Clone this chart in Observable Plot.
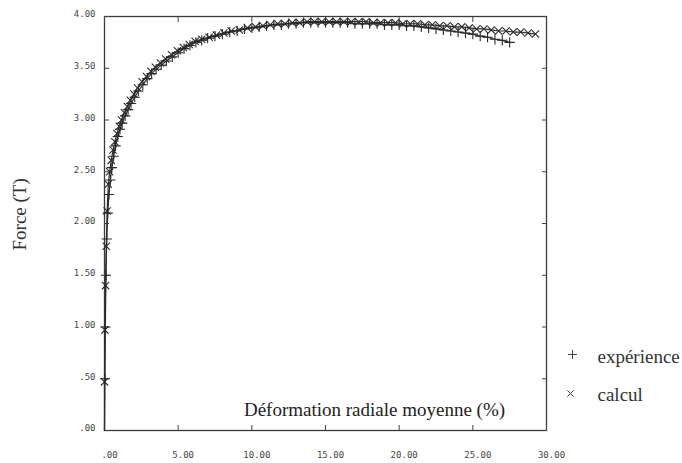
<!DOCTYPE html>
<html><head><meta charset="utf-8">
<script src="https://cdn.jsdelivr.net/npm/d3@7"></script>
<script src="https://cdn.jsdelivr.net/npm/@observablehq/plot@0.6"></script>
<style>body{margin:0;background:#fff} svg{display:block}</style>
</head><body><div id="chart"></div>
<script>
const xTicks = [0, 5, 10, 15, 20, 25, 30];
const xTickLabels = [".00", "5.00", "10.00", "15.00", "20.00", "25.00", "30.00"];
const yTicks = [0, 0.5, 1, 1.5, 2, 2.5, 3, 3.5, 4];
const yTickLabels = [".00", ".50", "1.00", "1.50", "2.00", "2.50", "3.00", "3.50", "4.00"];

const xTitle = "Déformation radiale moyenne (%)";
const yTitle = "Force (T)";
const seriesNames = ["expérience", "calcul"];

// expérience (+)
const expX = [0, 0.03, 0.06, 0.1, 0.15, 0.22, 0.3, 0.4, 0.5, 0.62,
  0.75, 0.9, 1.05, 1.2, 1.4, 1.6, 1.8, 2.05, 2.3, 2.6,
  2.9, 3.2, 3.5, 3.85, 4.2, 4.6, 5.0, 5.4, 5.8, 6.2,
  6.6, 7.0, 7.5, 8.0, 8.5, 9.0, 9.5, 10.0,
  10.5, 11.0, 11.5, 12.0, 12.5, 13.0, 13.5, 14.0, 14.5, 15.0,
  15.5, 16.0, 16.5, 17.0, 17.5, 18.0, 18.5, 19.0, 19.5, 20.0,
  20.5, 21.0, 21.5, 22.0, 22.5, 23.0, 23.5, 24.0, 24.5, 25.0,
  25.5, 26.0, 26.5, 27.0, 27.5];
const expY = [0, 0.5, 1.0, 1.5, 1.85, 2.1, 2.28, 2.42, 2.54, 2.65,
  2.75, 2.84, 2.91, 2.97, 3.04, 3.1, 3.16, 3.22, 3.28, 3.34,
  3.40, 3.45, 3.49, 3.53, 3.57, 3.61, 3.65, 3.69, 3.72, 3.75,
  3.77, 3.79, 3.81, 3.83, 3.85, 3.86, 3.88, 3.89,
  3.90, 3.91, 3.92, 3.92, 3.93, 3.93, 3.94, 3.94, 3.94, 3.94,
  3.94, 3.94, 3.94, 3.93, 3.93, 3.93, 3.93, 3.92, 3.92, 3.92,
  3.91, 3.91, 3.90, 3.89, 3.88, 3.87, 3.86, 3.85, 3.84, 3.83,
  3.81, 3.80, 3.78, 3.77, 3.75];

// calcul (×)
const calX = [0, 0.0, 0.03, 0.07, 0.12, 0.18, 0.26, 0.35, 0.46, 0.58,
  0.7, 0.85, 1.0, 1.15, 1.35, 1.55, 1.75, 2.0, 2.25, 2.55,
  2.85, 3.15, 3.45, 3.8, 4.15, 4.55, 4.95, 5.35, 5.75, 6.15,
  6.6, 7.1, 7.6, 8.1, 8.6, 9.15, 9.7, 10.25,
  10.75, 11.25, 11.75, 12.25, 12.75, 13.25, 13.75, 14.25, 14.75, 15.25,
  15.75, 16.25, 16.75, 17.25, 17.75, 18.25, 18.75, 19.25, 19.75, 20.25,
  20.75, 21.25, 21.75, 22.25, 22.75, 23.25, 23.75, 24.25, 24.75, 25.25,
  25.75, 26.25, 26.75, 27.25, 27.75, 28.25, 28.75, 29.25];
const calY = [0, 0.47, 0.97, 1.40, 1.78, 2.12, 2.38, 2.5, 2.61, 2.71,
  2.79, 2.87, 2.94, 3.0, 3.07, 3.13, 3.19, 3.25, 3.31, 3.37,
  3.42, 3.47, 3.51, 3.55, 3.59, 3.63, 3.67, 3.7, 3.73, 3.76,
  3.78, 3.8, 3.82, 3.84, 3.86, 3.87, 3.89, 3.9,
  3.91, 3.92, 3.93, 3.93, 3.94, 3.94, 3.95, 3.95, 3.95, 3.95,
  3.95, 3.95, 3.95, 3.95, 3.95, 3.94, 3.94, 3.94, 3.94, 3.93,
  3.93, 3.93, 3.92, 3.92, 3.91, 3.91, 3.9, 3.9, 3.89, 3.88,
  3.88, 3.87, 3.86, 3.86, 3.85, 3.85, 3.84, 3.83];

const exp = expX.map((x, i) => ({x, y: expY[i]}));
const cal = calX.map((x, i) => ({x, y: calY[i]}));

const serif = "Liberation Serif, Times New Roman, serif";
const mono = "DejaVu Sans Mono, monospace";
const ink = "#2b2b2b";

const chart = Plot.plot({
  width: 682,
  height: 463,
  marginLeft: 104,
  marginRight: 136,
  marginTop: 16,
  marginBottom: 33,
  style: {background: "#fff", color: ink},
  x: {domain: [0, 30]},
  y: {domain: [0, 4]},
  marks: [
    Plot.frame({stroke: "#3a3a3a", strokeWidth: 1.3}),
    // inward tick marks on all four sides
    Plot.axisX({ticks: xTicks, tickSize: -5, fill: "none", label: null, stroke: "#444"}),
    Plot.axisX({anchor: "top", ticks: xTicks, tickSize: -5, fill: "none", label: null, stroke: "#444"}),
    Plot.axisY({ticks: yTicks, tickSize: -5, fill: "none", label: null, stroke: "#444"}),
    Plot.axisY({anchor: "right", ticks: yTicks, tickSize: -5, fill: "none", label: null, stroke: "#444"}),
    // tick labels
    Plot.axisX({ticks: xTicks, tickSize: 0, tickPadding: 21, dx: 5, label: null,
      tickFormat: d => xTickLabels[xTicks.indexOf(d)], fontFamily: mono, fontSize: 9, fill: "#444"}),
    Plot.axisY({ticks: yTicks, tickSize: 0, tickPadding: 9, dy: -2, label: null,
      tickFormat: d => yTickLabels[yTicks.indexOf(d)], fontFamily: mono, fontSize: 9, fill: "#444"}),
    // series
    Plot.line(exp, {x: "x", y: "y", stroke: ink, strokeWidth: 1.2}),
    Plot.line(cal, {x: "x", y: "y", stroke: ink, strokeWidth: 1.2}),
    Plot.dot(exp.slice(1), {x: "x", y: "y", symbol: "plus", r: 3.4, stroke: ink, strokeWidth: 1.1}),
    Plot.dot(cal.slice(1), {x: "x", y: "y", symbol: "times", r: 3.4, stroke: ink, strokeWidth: 1.1}),
    // titles
    Plot.text([xTitle], {text: d => d, frameAnchor: "bottom", dx: 49, dy: -21, lineAnchor: "middle",
      fontFamily: serif, fontSize: 19, fill: "#222"}),
    Plot.text([yTitle], {text: d => d, frameAnchor: "left", dx: -85, dy: 27, rotate: -90, lineAnchor: "middle",
      fontFamily: serif, fontSize: 19, fill: "#333"}),
    // legend
    Plot.dot([seriesNames[0]], {frameAnchor: "right", dx: 26, dy: 131, symbol: "plus", r: 3, stroke: "#444", strokeWidth: 1}),
    Plot.text([seriesNames[0]], {text: d => d, frameAnchor: "right", dx: 51, dy: 133, textAnchor: "start",
      lineAnchor: "middle", fontFamily: serif, fontSize: 19, fill: "#333"}),
    Plot.dot([seriesNames[1]], {frameAnchor: "right", dx: 24, dy: 170, symbol: "times", r: 3, stroke: "#444", strokeWidth: 1}),
    Plot.text([seriesNames[1]], {text: d => d, frameAnchor: "right", dx: 51, dy: 171, textAnchor: "start",
      lineAnchor: "middle", fontFamily: serif, fontSize: 19, fill: "#333"})
  ]
});
document.getElementById("chart").append(chart);
</script>
</body></html>
